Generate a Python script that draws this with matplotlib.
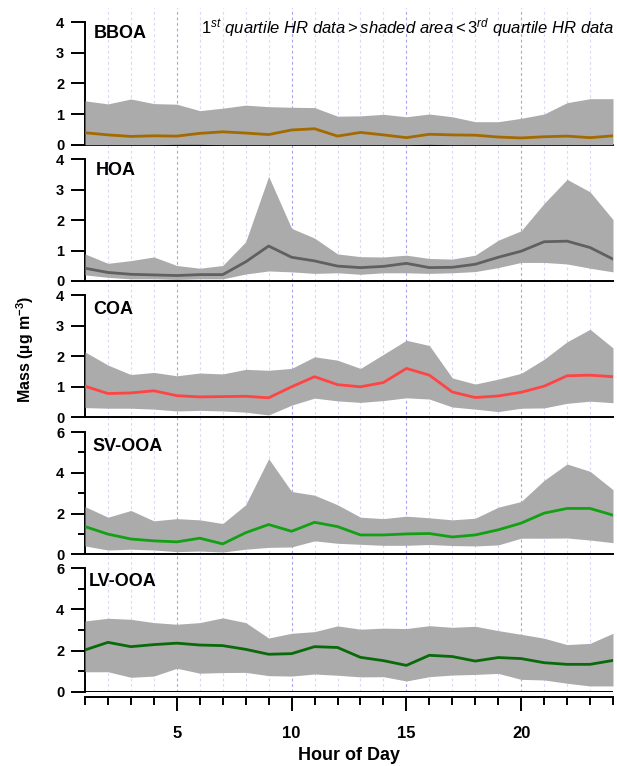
import matplotlib
matplotlib.use("Agg")
import matplotlib.pyplot as plt

plt.rcParams['font.family'] = ['Liberation Sans', 'DejaVu Sans']
plt.rcParams['mathtext.fontset'] = 'custom'
plt.rcParams['mathtext.rm'] = 'Liberation Sans'
plt.rcParams['mathtext.it'] = 'Liberation Sans:italic'
plt.rcParams['mathtext.bf'] = 'Liberation Sans:bold'

hours = list(range(1, 25))

# BBOA
bboa_med = [0.39, 0.32, 0.27, 0.29, 0.28, 0.37, 0.42, 0.38, 0.33, 0.48, 0.52, 0.28,
            0.40, 0.32, 0.23, 0.34, 0.32, 0.31, 0.25, 0.22, 0.26, 0.28, 0.23, 0.29]
bboa_q1 = [0.0, 0.0, 0.0, 0.0, 0.01, 0.01, 0.0, 0.0, 0.0, 0.0, 0.0, 0.0,
           0.0, 0.0, 0.0, 0.01, 0.0, 0.0, 0.0, 0.0, 0.0, 0.0, 0.0, 0.0]
bboa_q3 = [1.43, 1.33, 1.49, 1.34, 1.32, 1.11, 1.19, 1.29, 1.24, 1.22, 1.21, 0.93,
           0.94, 0.99, 0.91, 1.00, 0.91, 0.75, 0.75, 0.86, 1.00, 1.37, 1.50, 1.50]

# HOA
hoa_med = [0.42, 0.28, 0.22, 0.20, 0.18, 0.21, 0.21, 0.63, 1.15, 0.78, 0.66, 0.49,
           0.44, 0.48, 0.58, 0.44, 0.45, 0.55, 0.78, 0.98, 1.29, 1.31, 1.10, 0.72]
hoa_q1 = [0.20, 0.12, 0.07, 0.07, 0.05, 0.07, 0.07, 0.23, 0.33, 0.30, 0.25, 0.27,
          0.22, 0.27, 0.27, 0.25, 0.27, 0.31, 0.44, 0.61, 0.61, 0.56, 0.42, 0.30]
hoa_q3 = [0.89, 0.58, 0.67, 0.79, 0.51, 0.42, 0.51, 1.29, 3.44, 1.73, 1.41, 0.89,
          0.80, 0.79, 0.85, 0.74, 0.72, 0.85, 1.34, 1.65, 2.55, 3.34, 2.93, 2.02]

# COA
coa_med = [1.02, 0.78, 0.80, 0.87, 0.71, 0.67, 0.68, 0.69, 0.64, 1.00, 1.33, 1.07,
           1.00, 1.14, 1.60, 1.38, 0.83, 0.65, 0.70, 0.82, 1.02, 1.36, 1.38, 1.33]
coa_q1 = [0.32, 0.30, 0.30, 0.27, 0.21, 0.23, 0.21, 0.17, 0.08, 0.40, 0.63, 0.54,
          0.49, 0.55, 0.64, 0.60, 0.34, 0.27, 0.19, 0.30, 0.31, 0.46, 0.53, 0.48]
coa_q3 = [2.14, 1.71, 1.40, 1.47, 1.36, 1.45, 1.42, 1.57, 1.54, 1.60, 1.98, 1.87,
          1.60, 2.06, 2.52, 2.35, 1.29, 1.09, 1.25, 1.44, 1.90, 2.47, 2.88, 2.27]

# SV-OOA
sv_med = [1.36, 0.99, 0.75, 0.66, 0.61, 0.79, 0.51, 1.06, 1.46, 1.13, 1.57, 1.36,
          0.95, 0.95, 1.00, 1.02, 0.85, 0.95, 1.20, 1.53, 2.02, 2.25, 2.25, 1.92]
sv_q1 = [0.41, 0.21, 0.25, 0.21, 0.13, 0.16, 0.11, 0.25, 0.34, 0.36, 0.66, 0.54,
         0.49, 0.44, 0.44, 0.48, 0.43, 0.41, 0.46, 0.79, 0.79, 0.80, 0.70, 0.57]
sv_q3 = [2.34, 1.82, 2.15, 1.64, 1.75, 1.69, 1.51, 2.43, 4.69, 3.08, 2.90, 2.43,
         1.82, 1.75, 1.87, 1.79, 1.69, 1.77, 2.31, 2.59, 3.63, 4.43, 4.07, 3.17]

# LV-OOA
lv_med = [2.03, 2.40, 2.19, 2.29, 2.36, 2.27, 2.24, 2.06, 1.82, 1.85, 2.19, 2.15,
          1.67, 1.51, 1.28, 1.77, 1.71, 1.49, 1.66, 1.61, 1.41, 1.33, 1.33, 1.52]
lv_q1 = [0.97, 0.97, 0.70, 0.76, 1.14, 0.90, 0.93, 0.94, 0.78, 0.76, 0.86, 0.80,
         0.72, 0.73, 0.52, 0.73, 0.81, 0.84, 0.89, 0.60, 0.57, 0.41, 0.28, 0.28]
lv_q3 = [3.44, 3.57, 3.52, 3.36, 3.28, 3.36, 3.59, 3.36, 2.61, 2.84, 2.92, 3.20,
         3.04, 3.09, 3.07, 3.21, 3.13, 3.18, 2.97, 2.79, 2.60, 2.29, 2.35, 2.84]

names = ['BBOA', 'HOA', 'COA', 'SV-OOA', 'LV-OOA']
meds = [bboa_med, hoa_med, coa_med, sv_med, lv_med]
q1s = [bboa_q1, hoa_q1, coa_q1, sv_q1, lv_q1]
q3s = [bboa_q3, hoa_q3, coa_q3, sv_q3, lv_q3]
colors = ['#A36A00', '#606060', '#FF4444', '#14A014', '#0A690A']
ymax = [4, 4, 4, 6, 6]

W, H = 617, 766
fig = plt.figure(figsize=(W / 100, H / 100), dpi=100)

# pixel extents of each panel (top, bottom)
panels = [(22, 144.7), (159.3, 281), (295, 417.4), (432, 554.3), (568.3, 691.7)]
label_tops = [25, 162, 301, 438, 573]
label_lefts = [94, 96, 93, 92, 89]
left, width = 85, 528

# background vertical dashed grid
bg = fig.add_axes([left / W, 1 - 691.7 / H, width / W, (691.7 - 8) / H], zorder=0)
bg.set_xlim(1, 24)
bg.set_ylim(0, 1)
bg.axis('off')
for h in range(2, 24):
    c = '#A4A4EE' if h % 5 == 0 else '#DADAF8'
    bg.axvline(h, color=c, lw=0.8, dashes=(2.5, 2.5))

for i in range(5):
    top, bot = panels[i]
    ax = fig.add_axes([left / W, 1 - bot / H, width / W, (bot - top) / H], zorder=1)
    ax.set_facecolor('none')
    ax.fill_between(hours, q1s[i], q3s[i], color='#ABABAB', lw=0, zorder=3)
    ax.plot(hours, meds[i], color=colors[i], lw=2, zorder=4)
    ax.set_xlim(1, 24)
    ax.set_ylim(0, ymax[i])
    for s in ['top', 'right']:
        ax.spines[s].set_visible(False)
    for s in ['left', 'bottom']:
        ax.spines[s].set_linewidth(1.4)
    if ymax[i] == 4:
        ax.set_yticks([0, 1, 2, 3, 4])
    else:
        ax.set_yticks([0, 2, 4, 6])
        ax.set_yticks([1, 3, 5], minor=True)
    ax.tick_params(axis='y', which='major', direction='out', length=10, width=1.4,
                   pad=5, labelsize=10.5)
    ax.tick_params(axis='y', which='minor', direction='out', length=5, width=1.4)
    plt.setp(ax.get_yticklabels(), fontweight='bold')
    ax.text((label_lefts[i] - left) / width, 1 - (label_tops[i] - top) / (bot - top),
            names[i], transform=ax.transAxes, ha='left', va='top',
            fontsize=13, fontweight='bold', zorder=5)
    if i < 4:
        ax.tick_params(axis='x', which='both', bottom=False, labelbottom=False)
    else:
        ax.spines['bottom'].set_position(('outward', 4))
        ax.axhline(0, color='black', lw=1.4, zorder=2.5)
        ax.set_xticks([5, 10, 15, 20])
        ax.set_xticks(hours, minor=True)
        ax.tick_params(axis='x', which='major', direction='out', length=10, width=1.4,
                       pad=11, labelsize=12)
        ax.tick_params(axis='x', which='minor', direction='out', length=6, width=1.4)
        plt.setp(ax.get_xticklabels(), fontweight='bold')

fig.text(614 / W, 1 - 33.3 / H,
         r'$\mathit{1^{st}\ quartile\ HR\ data > shaded\ area < 3^{rd}\ quartile\ HR\ data}$',
         ha='right', va='baseline', fontsize=12)
fig.text(25 / W, 1 - 349 / H, r'Mass (µg m$^{\mathbf{-3}}$)', rotation=90,
         ha='center', va='center', fontsize=11.5, fontweight='bold')
fig.text(349 / W, 1 - 756 / H, 'Hour of Day', ha='center', va='center',
         fontsize=13, fontweight='bold')

fig.savefig('out.png', dpi=100)
